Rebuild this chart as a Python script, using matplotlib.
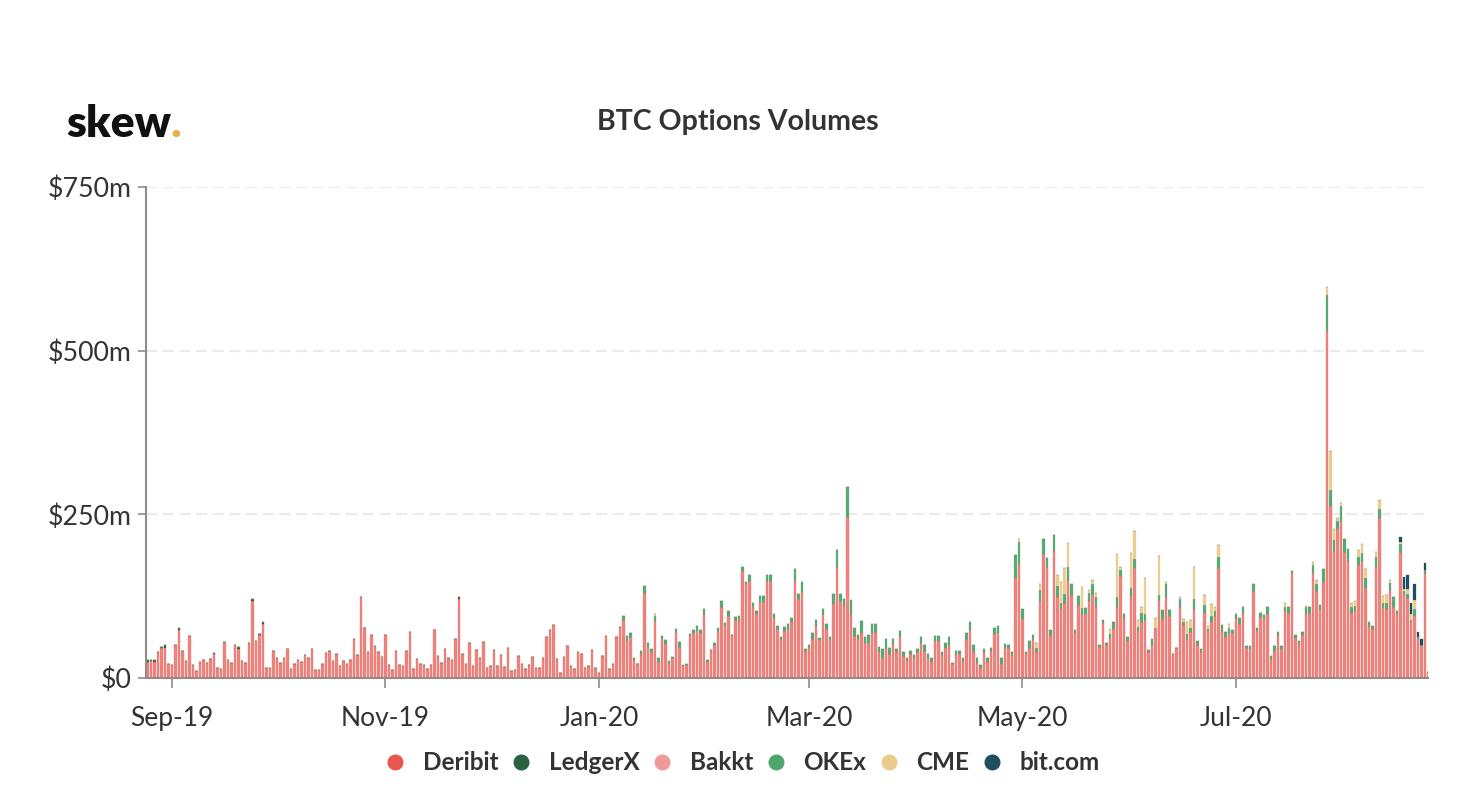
import numpy as np
import pandas as pd
import matplotlib
matplotlib.use('Agg')
import matplotlib.pyplot as plt
import matplotlib.dates as mdates
from matplotlib.lines import Line2D

plt.rcParams['font.family'] = ['Lato', 'DejaVu Sans']

dates = pd.date_range('2019-08-25', periods=367)

deribit = [
    25, 26, 25, 39, 46, 46, 21, 20, 50, 73, 41, 26, 64, 20, 10, 25, 27, 23, 29, 36,
    16, 14, 55, 28, 23, 50, 45, 26, 23, 53, 118, 56, 65, 83, 16, 15, 41, 31, 23, 30,
    45, 14, 22, 27, 25, 35, 30, 44, 12, 12, 21, 38, 41, 26, 37, 18, 26, 21, 27, 60,
    35, 123, 77, 39, 65, 49, 39, 32, 66, 20, 12, 41, 20, 18, 42, 70, 13, 29, 21, 20,
    14, 20, 74, 34, 23, 44, 31, 27, 60, 120, 37, 21, 54, 18, 43, 30, 55, 15, 18, 43,
    18, 35, 17, 46, 10, 12, 34, 21, 14, 20, 32, 15, 16, 31, 62, 74, 81, 29, 8, 32,
    49, 19, 14, 39, 37, 15, 19, 43, 16, 8, 33, 64, 13, 22, 62, 78, 89, 57, 63, 27,
    22, 37, 130, 47, 40, 87, 25, 59, 52, 22, 30, 71, 48, 19, 20, 65, 68, 73, 68, 98,
    25, 42, 51, 71, 108, 79, 95, 65, 88, 89, 163, 144, 148, 109, 97, 116, 116, 148, 148, 92,
    75, 58, 72, 75, 85, 150, 120, 131, 41, 46, 60, 79, 58, 98, 75, 58, 113, 170, 118, 110,
    246, 98, 64, 59, 68, 53, 53, 69, 71, 39, 31, 46, 36, 52, 39, 64, 33, 28, 36, 30,
    40, 54, 41, 31, 25, 56, 56, 35, 46, 51, 21, 37, 36, 26, 59, 74, 41, 23, 16, 39,
    24, 41, 67, 69, 22, 46, 46, 34, 152, 174, 90, 36, 46, 59, 39, 118, 189, 170, 64, 194,
    123, 106, 115, 148, 127, 69, 112, 97, 98, 118, 129, 109, 47, 84, 50, 61, 75, 109, 156, 92,
    57, 126, 168, 72, 86, 88, 39, 50, 77, 119, 90, 124, 94, 37, 46, 109, 81, 59, 70, 105,
    51, 40, 99, 70, 86, 94, 168, 72, 62, 69, 69, 91, 83, 99, 46, 45, 133, 72, 93, 90,
    97, 29, 42, 65, 44, 102, 100, 160, 61, 52, 65, 97, 99, 160, 133, 104, 146, 530, 263, 194,
    227, 240, 193, 179, 99, 103, 173, 178, 137, 80, 75, 170, 244, 109, 106, 134, 109, 97, 193, 128,
    122, 85, 95, 60, 49, 161, 9,
]

ledgerx = [
    2, 1, 3, 0, 2, 4, 0, 0, 0, 4, 0, 0, 0, 0, 0, 0, 0, 0, 0, 2,
    0, 0, 0, 0, 0, 0, 3, 0, 0, 0, 2, 0, 2, 2, 0, 0, 0, 0, 0, 0,
] + [0] * 21 + [1] + [0] * 9 + [1] + [0] * 17 + [4] + [0] * 277

bakkt = [0] * 367

okex = [0] * 136 + [
    6, 7, 6, 3, 0, 4, 10, 7, 5, 8, 6, 5, 6, 4,
    2, 4, 7, 1, 1, 2, 5, 6, 6, 7, 3, 1, 2, 5, 9, 5, 7, 1, 5, 6,
    7, 3, 9, 6, 6, 9, 9, 9, 9, 5, 4, 5, 6, 7, 7, 17, 9, 15, 3, 5,
    8, 10, 3, 7, 8, 5, 15, 26, 10, 11, 46, 21, 13, 7, 19, 10, 12, 14, 12, 8,
    13, 13, 10, 8, 6, 8, 6, 3, 6, 5, 4, 9, 9, 6, 5, 8, 8, 4, 7, 11,
    2, 5, 5, 4, 10, 12, 9, 8, 4, 6, 6, 5, 9, 10, 8, 6, 5, 5, 36, 34,
    16, 4, 10, 7, 7, 16, 24, 14, 10, 25, 17, 9, 13, 22, 16, 4, 13, 10, 9, 12,
    14, 14, 4, 5, 4, 6, 10, 14, 9, 6, 6, 11, 14, 6, 14, 10, 4, 9, 0, 8,
    14, 19, 10, 0, 0, 12, 5, 8, 7, 15, 6, 4, 13, 5, 8, 9, 17, 9, 8, 7,
    4, 7, 8, 9, 3, 4, 10, 5, 7, 6, 11, 4, 7, 5, 5, 6, 9, 4, 4, 5,
    6, 11, 9, 12, 10, 8, 20, 55, 24, 17, 13, 22, 20, 18, 10, 7, 12, 13, 15, 5,
    5, 15, 14, 6, 8, 11, 14, 5, 12, 5, 6, 3, 11, 2, 2, 4, 0,
]

cme = [0] * 145 + [2] + [0] * 16 + [1, 0, 1] + [0] * 7 + [1] + [0] * 76 + [
    4, 0, 0, 0, 0, 8, 10, 0, 0, 0, 0, 18, 31, 40, 36, 0, 0, 0, 32, 0, 5,
    6, 7, 0, 0, 0, 8, 0, 66, 4, 0, 0, 54, 43, 10, 9, 54, 0, 0, 14, 60,
    0, 3, 0, 0, 0, 2, 4, 18, 11, 49, 0, 0, 15, 5, 19, 5, 18, 0, 0, 6,
    0, 0, 0, 0, 0, 0, 0, 0, 0, 0, 0, 0, 0, 0, 0, 6, 0, 0, 0, 0,
    0, 2, 0, 5, 6, 0, 0, 12, 60, 17, 4, 6, 0, 0, 6, 8, 11, 14, 14, 0,
    0, 7, 14, 10, 13, 5, 0, 0, 3, 3, 8, 9, 13, 0, 0, 0, 0,
]

bitcom = [0] * 358 + [8, 19, 21, 18, 24, 9, 9, 11, 0]

names = ['Deribit', 'LedgerX', 'Bakkt', 'OKEx', 'CME', 'bit.com']
series = [deribit, ledgerx, bakkt, okex, cme, bitcom]
bar_colors = ['#f0837e', '#2a6140', '#ef9a9a', '#5aa876', '#eccd90', '#1f4e5f']
edge_colors = ['#e8605a', '#2a6140', '#ef9a9a', '#5aa876', '#eccd90', '#1f4e5f']
dot_colors = ['#e8574e', '#2a6140', '#ef9a9a', '#4fa66d', '#ebcb8b', '#1f4e5f']

fig = plt.figure(figsize=(14.8, 8.1), dpi=100)
ax = fig.add_axes([146 / 1480, 1 - 678 / 810, (1428 - 146) / 1480, (678 - 187) / 810])

bottom = np.zeros(len(dates))
for vals, c, e in zip(series, bar_colors, edge_colors):
    vals = np.array(vals, dtype=float)
    ax.bar(dates, vals, width=0.68, bottom=bottom, color=c, edgecolor=e, linewidth=0.2)
    bottom += vals

ax.set_xlim(pd.Timestamp('2019-09-01') - pd.Timedelta(days=7.43),
            pd.Timestamp('2019-09-01') + pd.Timedelta(days=358.9))
ax.set_ylim(0, 750)

ax.set_yticks([0, 250, 500, 750])
ax.set_yticklabels(['$0', '$250m', '$500m', '$750m'])
ax.xaxis.set_major_locator(mdates.MonthLocator(bymonth=[9, 11, 1, 3, 5, 7]))
ax.xaxis.set_major_formatter(mdates.DateFormatter('%b-%y'))

ax.grid(axis='y', color='#ebebeb', linewidth=1.6, linestyle=(0, (5, 2.5)))
ax.set_axisbelow(True)
for s in ['top', 'right']:
    ax.spines[s].set_visible(False)
for s in ['left', 'bottom']:
    ax.spines[s].set_color('#8c8c8c')
    ax.spines[s].set_linewidth(1.5)
ax.tick_params(axis='y', length=6, width=1.2, color='#8c8c8c', pad=4.5, labelsize=19.3, labelcolor='#333333')
ax.tick_params(axis='x', length=7.5, width=1.2, color='#8c8c8c', pad=13, labelsize=19, labelcolor='#333333')

fig.text(738 / 1480, 1 - 122 / 810, 'BTC Options Volumes', ha='center', va='center',
         fontsize=20.5, fontweight='bold', color='#333333')

# logo
fig.text(66 / 1480, 1 - 137 / 810, 'skew', ha='left', va='baseline', fontsize=32,
         fontweight='heavy', color='#111111')
fig.text(169 / 1480, 1 - 137 / 810, '.', ha='left', va='baseline', fontsize=32,
         fontweight='bold', color='#e5b04f', family='Open Sans')

handles = [Line2D([], [], linestyle='none', marker='o', markersize=10.5, color=c) for c in dot_colors]
leg = fig.legend(handles, names, loc='center', bbox_to_anchor=(744 / 1480, 1 - 763 / 810), ncol=6,
                 frameon=False, fontsize=17.5, handlelength=0.6, handletextpad=0.82, columnspacing=0.65,
                 labelcolor='#333333')
for t in leg.get_texts():
    t.set_fontweight('bold')

fig.savefig('out.png', dpi=100)
